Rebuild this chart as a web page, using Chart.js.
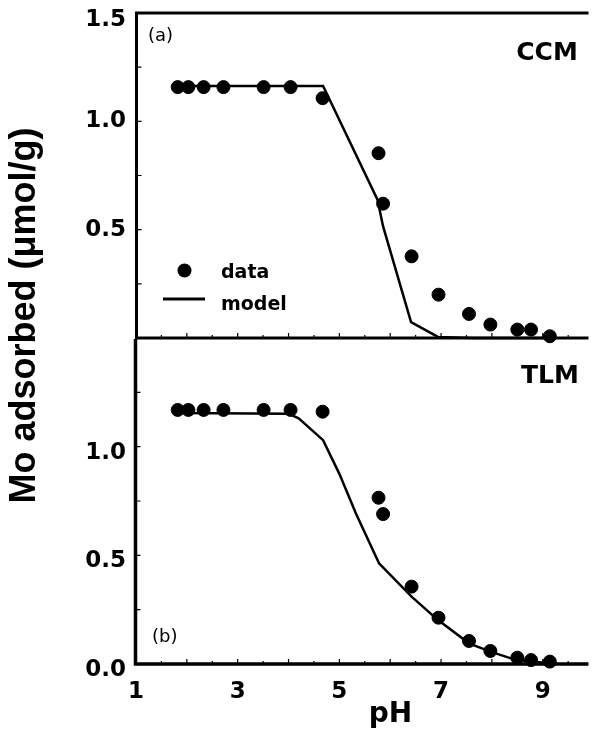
<!DOCTYPE html>
<html>
<head>
<meta charset="utf-8">
<title>Mo adsorption vs pH</title>
<script src="https://cdn.jsdelivr.net/npm/chart.js@4.4.1/dist/chart.umd.min.js"></script>
<style>
  body { margin: 0; background: #fff; }
  #wrap { position: relative; width: 596px; height: 729px; }
  #wrap canvas { position: absolute; left: 0; top: 0; }
</style>
</head>
<body>
<div id="wrap">
  <canvas id="ccm-canvas" width="596" height="729"></canvas>
  <canvas id="tlm-canvas" width="596" height="729"></canvas>
</div>
<script>
// sample pH, same for both panels
var ph = [1.82, 2.03, 2.33, 2.72, 3.51, 4.04, 4.67, 5.77, 5.86, 6.42, 6.95, 7.55, 7.97, 8.50, 8.77, 9.14]
var ccm_data = [1.158, 1.158, 1.158, 1.158, 1.158, 1.158, 1.107, 0.853, 0.620, 0.377, 0.200, 0.111, 0.062, 0.039, 0.039, 0.008]
var tlm_data = [1.169, 1.169, 1.169, 1.169, 1.169, 1.169, 1.161, 0.765, 0.690, 0.356, 0.213, 0.106, 0.060, 0.029, 0.018, 0.011]

// model curves
var ccm_model_ph = [1.82, 4.68, 5.75, 5.86, 6.41, 6.94, 7.60, 9.20]
var ccm_model = [1.163, 1.163, 0.638, 0.515, 0.073, 0.005, 0.000, 0.000]
var tlm_model_ph = [1.82, 4.00, 4.20, 4.68, 5.00, 5.33, 5.78, 6.42, 6.94, 7.55, 7.97, 8.48, 9.13]
var tlm_model = [1.155, 1.152, 1.130, 1.030, 0.875, 0.690, 0.463, 0.310, 0.202, 0.095, 0.057, 0.018, 0.003]

var ph_ticks = [1, 3, 5, 7, 9]
var ccm_ticks = [0.5, 1.0, 1.5]
var tlm_ticks = [0.0, 0.5, 1.0]

var tickFont = { family: 'DejaVu Sans', size: 23, weight: 'bold', lineHeight: 1 }

function xy(xs, ys) {
  return xs.map(function (x, i) { return { x: x, y: ys[i] } })
}

// frame, inward ticks and panel text
var panelPlugin = {
  id: 'panel',
  beforeDatasetsDraw: function (chart, args, opts) {
    var ctx = chart.ctx
    var a = chart.chartArea
    var xs = chart.scales.x
    var ys = chart.scales.y
    var left = a.left + opts.shift
    ctx.save()
    ctx.strokeStyle = '#000'
    ctx.lineJoin = 'miter'
    ctx.lineWidth = opts.frameWidth
    ctx.beginPath()
    if (opts.closedTop) {
      ctx.moveTo(a.right, a.top)
      ctx.lineTo(left, a.top)
    } else {
      ctx.moveTo(left, a.top + 1)
    }
    ctx.lineTo(left, a.bottom)
    ctx.lineTo(a.right, a.bottom)
    ctx.stroke()

    ctx.lineWidth = 1.2
    ctx.beginPath()
    for (var v = 1.5; v < xs.max; v += 0.5) {
      var px = xs.getPixelForValue(v)
      var len = v % 1 === 0 ? 5 : 3
      ctx.moveTo(px, a.bottom)
      ctx.lineTo(px, a.bottom - len)
    }
    for (var w = 0.25; w < 1.5; w += 0.25) {
      var py = ys.getPixelForValue(w)
      ctx.moveTo(left, py)
      ctx.lineTo(left + 5, py)
    }
    ctx.stroke()
    ctx.restore()
  },
  afterDraw: function (chart, args, opts) {
    var ctx = chart.ctx
    ctx.save()
    ctx.fillStyle = '#000'
    ctx.textBaseline = 'alphabetic'
    ctx.font = '18px "DejaVu Sans"'
    ctx.textAlign = 'left'
    ctx.fillText(opts.tag, opts.tagAt[0], opts.tagAt[1])
    ctx.font = 'bold 25px "DejaVu Sans"'
    ctx.textAlign = 'center'
    ctx.fillText(opts.name, opts.nameAt[0], opts.nameAt[1])
    if (opts.extra) opts.extra(chart, ctx)
    ctx.restore()
  }
}

function panelConfig(dots, model_x, model_y, yTicks, layoutPad, panel) {
  return {
    type: 'scatter',
    data: {
      datasets: [
        {
          label: 'model',
          data: xy(model_x, model_y),
          showLine: true,
          borderColor: '#000',
          borderWidth: 2.5,
          pointRadius: 0,
          clip: false
        },
        {
          label: 'data',
          data: xy(ph, dots),
          backgroundColor: '#000',
          borderColor: '#000',
          borderWidth: 1,
          pointRadius: 6.5,
          clip: false
        }
      ]
    },
    options: {
      responsive: false,
      animation: false,
      devicePixelRatio: 1,
      layout: { padding: layoutPad },
      scales: {
        x: {
          type: 'linear',
          min: 1,
          max: 9.9,
          display: panel.showX,
          afterBuildTicks: function (s) { s.ticks = ph_ticks.map(function (v) { return { value: v } }) },
          afterFit: function (s) {
            if (panel.showX) s.height = 65
            s.paddingLeft = 0
            s.paddingRight = 0
          },
          grid: { display: false, drawTicks: false },
          border: { display: false },
          ticks: {
            color: '#000',
            font: tickFont,
            padding: 16.5,
            maxRotation: 0,
            autoSkip: false,
            callback: function (v) { return String(v) }
          }
        },
        y: {
          type: 'linear',
          min: 0,
          max: 1.5,
          afterBuildTicks: function (s) { s.ticks = yTicks.map(function (v) { return { value: v } }) },
          afterFit: function (s) {
            s.width = 136
            s.paddingTop = 0
            s.paddingBottom = 0
          },
          grid: { display: false, drawTicks: false },
          border: { display: false },
          ticks: {
            color: '#000',
            font: tickFont,
            padding: 10,
            labelOffset: panel.labelOffset,
            callback: function (v) { return v === 1.5 ? '' : v.toFixed(1) }
          }
        }
      },
      plugins: {
        legend: { display: false },
        tooltip: { enabled: false },
        panel: panel
      }
    },
    plugins: [panelPlugin]
  }
}

// upper panel: constant capacitance model
var ccmCanvas = document.getElementById('ccm-canvas').getContext('2d')
var ccmChart = new Chart(ccmCanvas, panelConfig(ccm_data, ccm_model_ph, ccm_model, ccm_ticks,
  { top: 13, bottom: 391, left: 0, right: 0 },
  {
    showX: false,
    labelOffset: 0,
    shift: 0.5,
    frameWidth: 3,
    closedTop: true,
    tag: '(a)',
    tagAt: [148, 41],
    name: 'CCM',
    nameAt: [547, 60],
    extra: function (chart, ctx) {
      var ys = chart.scales.y
      ctx.font = 'bold 23px "DejaVu Sans"'
      ctx.textAlign = 'right'
      ctx.textBaseline = 'middle'
      ctx.fillText('1.5', 126, ys.getPixelForValue(1.5) + 7.5)

      // legend
      var dots = chart.data.datasets[1]
      var line = chart.data.datasets[0]
      ctx.fillStyle = dots.backgroundColor
      ctx.beginPath()
      ctx.arc(184.5, 270.5, 7, 0, Math.PI * 2)
      ctx.fill()
      ctx.strokeStyle = line.borderColor
      ctx.lineWidth = 3
      ctx.beginPath()
      ctx.moveTo(163, 299)
      ctx.lineTo(205, 299)
      ctx.stroke()
      ctx.font = 'bold 19px "DejaVu Sans"'
      ctx.textAlign = 'left'
      ctx.textBaseline = 'alphabetic'
      ctx.fillText(dots.label, 221, 278)
      ctx.fillText(line.label, 221, 310)

      // shared y title
      ctx.save()
      ctx.translate(35, 315.5)
      ctx.rotate(-Math.PI / 2)
      ctx.font = 'bold 36px "Liberation Sans"'
      ctx.textAlign = 'center'
      ctx.fillText('Mo adsorbed (μmol/g)', 0, 0)
      ctx.restore()
    }
  }))

// lower panel: triple layer model
var tlmCanvas = document.getElementById('tlm-canvas').getContext('2d')
var tlmChart = new Chart(tlmCanvas, panelConfig(tlm_data, tlm_model_ph, tlm_model, tlm_ticks,
  { top: 338, bottom: 0, left: 0, right: 0 },
  {
    showX: true,
    labelOffset: 6,
    shift: -0.5,
    frameWidth: 3.5,
    closedTop: false,
    tag: '(b)',
    tagAt: [152, 642],
    name: 'TLM',
    nameAt: [550, 383],
    extra: function (chart, ctx) {
      ctx.font = 'bold 28px "DejaVu Sans"'
      ctx.textAlign = 'center'
      ctx.textBaseline = 'alphabetic'
      ctx.fillText('pH', 390.5, 722)
    }
  }))
</script>
</body>
</html>
